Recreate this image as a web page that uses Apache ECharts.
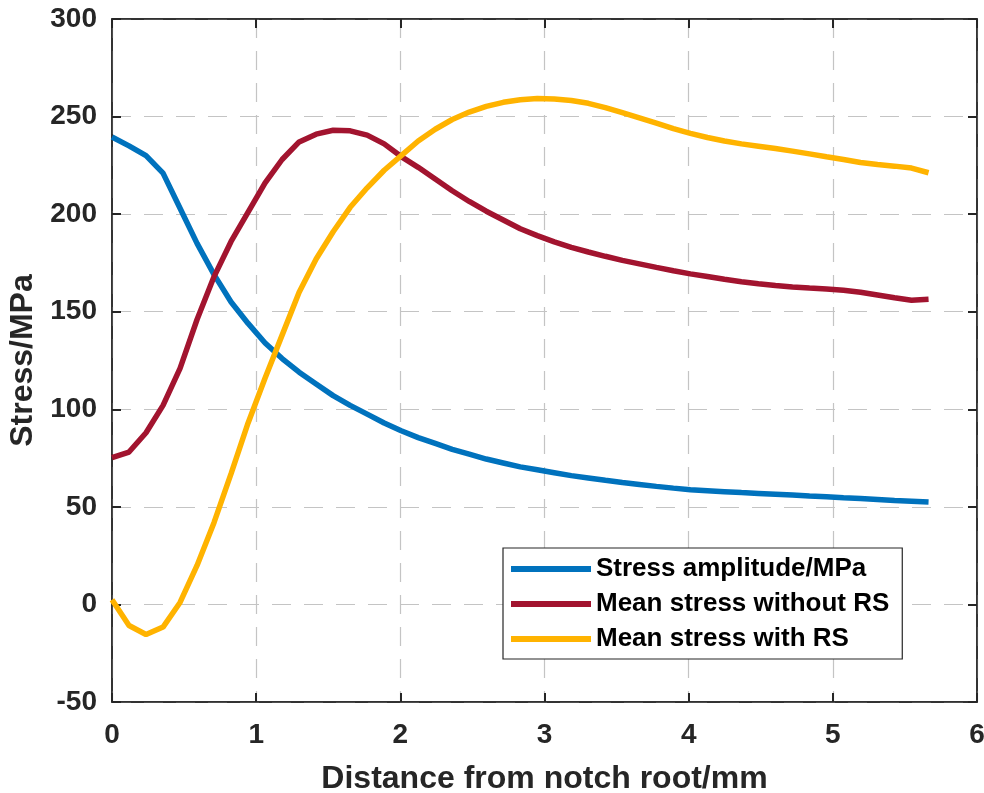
<!DOCTYPE html>
<html>
<head>
<meta charset="utf-8">
<script src="https://cdn.jsdelivr.net/npm/echarts@6/dist/echarts.min.js"></script>
<style>
html,body{margin:0;padding:0;background:#fff;}
#chart{width:984px;height:793px;}
</style>
</head>
<body>
<div id="chart"></div>
<script>
const distance = [0, 0.118, 0.236, 0.354, 0.472, 0.59, 0.708, 0.826, 0.944, 1.062, 1.18, 1.298, 1.416, 1.534, 1.652, 1.77, 1.888, 2.006, 2.124, 2.242, 2.36, 2.478, 2.596, 2.714, 2.832, 2.95, 3.068, 3.186, 3.304, 3.422, 3.54, 3.658, 3.776, 3.894, 4.012, 4.13, 4.248, 4.366, 4.484, 4.602, 4.72, 4.838, 4.956, 5.074, 5.192, 5.31, 5.428, 5.546, 5.664];

const stressAmplitude = [239.5, 235, 230, 221, 203, 185, 169, 155, 144, 134, 126, 119, 113, 107, 102, 97.5, 93, 89, 85.5, 82.5, 79.5, 77, 74.5, 72.5, 70.5, 69, 67.5, 66, 64.8, 63.6, 62.5, 61.5, 60.5, 59.6, 58.8, 58.3, 57.8, 57.3, 56.9, 56.5, 56.1, 55.6, 55.2, 54.7, 54.3, 53.8, 53.3, 52.9, 52.5];

const meanWithoutRS = [75.2, 78.1, 88, 102, 121, 146, 168, 186, 201, 216, 228, 237, 241, 243, 242.7, 240.5, 236, 229.5, 224, 218, 212, 206.5, 201.5, 197, 192.5, 189, 185.8, 183, 180.6, 178.4, 176.3, 174.5, 172.7, 171, 169.4, 168, 166.6, 165.4, 164.3, 163.4, 162.7, 162.1, 161.6, 161, 160, 158.6, 157.2, 155.9, 156.4];

const meanWithRS = [2.4, -10.8, -15.4, -11.6, 1, 20, 42, 67, 93, 116, 138, 160, 177, 191, 203.5, 213.5, 222.5, 230, 237.5, 243.5, 248.5, 252.3, 255.2, 257.3, 258.6, 259.2, 259, 258.2, 256.8, 254.6, 252, 249.3, 246.6, 243.8, 241.4, 239.3, 237.5, 236, 234.8, 233.6, 232.3, 230.9, 229.4, 228, 226.5, 225.4, 224.6, 223.6, 221.2];

const seriesNames = ['Stress amplitude/MPa', 'Mean stress without RS', 'Mean stress with RS'];
const xTitle = 'Distance from notch root/mm';
const yTitle = 'Stress/MPa';

const FONT = "'Liberation Sans', Arial, Helvetica, sans-serif";
const AX = '#262626';

function pairs(ys){ return distance.map((x,i)=>[x, ys[i]]); }

const chart = echarts.init(document.getElementById('chart'), null, {renderer:'canvas'});

const tickCommon = {show:true, inside:true, length:9, lineStyle:{color:AX, width:2}};
const gridLine = {show:true, lineStyle:{color:'#c4c4c4', width:1.2, type:[19,13]}};

chart.setOption({
  animation:false,
  backgroundColor:'#fff',
  grid:{left:112, top:19, right:7, bottom:91, containLabel:false, outerBoundsMode:'none', show:true, borderColor:AX, borderWidth:1.5, backgroundColor:'transparent'},
  legend:{
    left:503, top:548, orient:'vertical',
    data:seriesNames,
    icon:'rect', itemWidth:80, itemHeight:6, itemGap:9,
    padding:[8,13,7,8],
    borderColor:AX, borderWidth:1.2, backgroundColor:'#fff',
    textStyle:{fontFamily:FONT, fontWeight:'bold', fontSize:26, color:'#000', lineHeight:26}
  },
  xAxis:[{
    type:'value', min:0, max:6, interval:1, position:'bottom',
    axisLine:{show:true, onZero:false, lineStyle:{color:AX, width:1.5}},
    axisTick:tickCommon,
    axisLabel:{fontFamily:FONT, fontWeight:'bold', fontSize:28, color:AX, margin:19},
    splitLine:gridLine,
    name:xTitle, nameLocation:'middle', nameGap:61,
    nameTextStyle:{fontFamily:FONT, fontWeight:'bold', fontSize:32, color:AX}
  },{
    type:'value', min:0, max:6, interval:1, position:'top',
    axisLine:{show:true, onZero:false, lineStyle:{color:AX, width:1.5}},
    axisTick:tickCommon, axisLabel:{show:false}, splitLine:{show:false}
  }],
  yAxis:[{
    type:'value', min:-50, max:300, interval:50, position:'left',
    axisLine:{show:true, onZero:false, lineStyle:{color:AX, width:1.5}},
    axisTick:tickCommon,
    axisLabel:{fontFamily:FONT, fontWeight:'bold', fontSize:28, color:AX, margin:15},
    splitLine:gridLine,
    name:yTitle, nameLocation:'middle', nameGap:73, nameRotate:90,
    nameTextStyle:{fontFamily:FONT, fontWeight:'bold', fontSize:32, color:AX}
  },{
    type:'value', min:-50, max:300, interval:50, position:'right',
    axisLine:{show:true, onZero:false, lineStyle:{color:AX, width:1.5}},
    axisTick:tickCommon, axisLabel:{show:false}, splitLine:{show:false}
  }],
  series:[
    {name:seriesNames[0], type:'line', data:pairs(stressAmplitude), showSymbol:false, symbol:'none', color:'#0072BD', lineStyle:{width:5.5, color:'#0072BD'}, z:3},
    {name:seriesNames[1], type:'line', data:pairs(meanWithoutRS), showSymbol:false, symbol:'none', color:'#A2142F', lineStyle:{width:5.5, color:'#A2142F'}, z:4},
    {name:seriesNames[2], type:'line', data:pairs(meanWithRS), showSymbol:false, symbol:'none', color:'#FFB300', lineStyle:{width:5.5, color:'#FFB300'}, z:5}
  ]
});
</script>
</body>
</html>
